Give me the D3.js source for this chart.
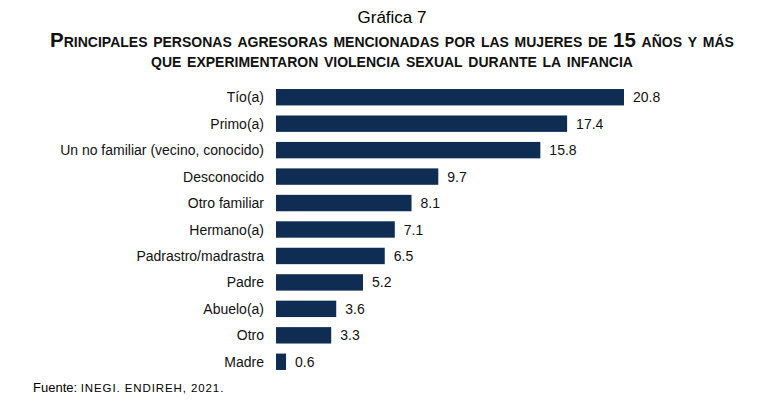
<html>
<head>
<meta charset="utf-8">
<script src="https://d3js.org/d3.v7.min.js"></script>
<style>body{margin:0;background:#fff}</style>
</head>
<body>
<script>
var categories = ["Tío(a)","Primo(a)","Un no familiar (vecino, conocido)","Desconocido","Otro familiar","Hermano(a)","Padrastro/madrastra","Padre","Abuelo(a)","Otro","Madre"];
var values = [20.8,17.4,15.8,9.7,8.1,7.1,6.5,5.2,3.6,3.3,0.6];

var svg = d3.select("body").append("svg").attr("width",783).attr("height",415)
  .style("font-family","Arial, 'Liberation Sans', sans-serif");

var x = d3.scaleLinear().domain([0,20.8]).range([276,624]);
var y = d3.scaleBand().domain(categories).range([84,375]).paddingInner(0.38).paddingOuter(0.19);

svg.append("text").attr("x",392).attr("y",23).attr("text-anchor","middle")
  .attr("font-size",17).text("Gráfica 7");
var t = ["Principales personas agresoras mencionadas por las mujeres de 15 años y más","que experimentaron violencia sexual durante la infancia"];
svg.selectAll(".t").data(t).enter().append("text")
  .attr("x",392).attr("y",(d,i)=>47+i*20).attr("text-anchor","middle")
  .attr("font-size",20.5).attr("font-weight","bold").style("font-variant","small-caps")
  .attr("fill","#111").text(d=>d);

svg.selectAll("rect").data(values).enter().append("rect")
  .attr("x",x(0)).attr("y",(d,i)=>y(categories[i]))
  .attr("width",d=>x(d)-x(0)).attr("height",y.bandwidth()).attr("fill","#0f2c52");

svg.selectAll(".c").data(categories).enter().append("text")
  .attr("x",264).attr("y",d=>y(d)+y.bandwidth()/2+5).attr("text-anchor","end")
  .attr("font-size",14).attr("fill","#111").text(d=>d);

svg.selectAll(".v").data(values).enter().append("text")
  .attr("x",d=>x(d)+9).attr("y",(d,i)=>y(categories[i])+y.bandwidth()/2+5)
  .attr("font-size",14).attr("fill","#111").text(d=>d.toFixed(1));

var f = svg.append("text").attr("x",33).attr("y",392).attr("font-size",13);
f.append("tspan").text("Fuente: ");
f.append("tspan").attr("font-size",11.5).attr("letter-spacing",0.9).text("INEGI. ENDIREH, 2021.");
</script>
</body>
</html>
